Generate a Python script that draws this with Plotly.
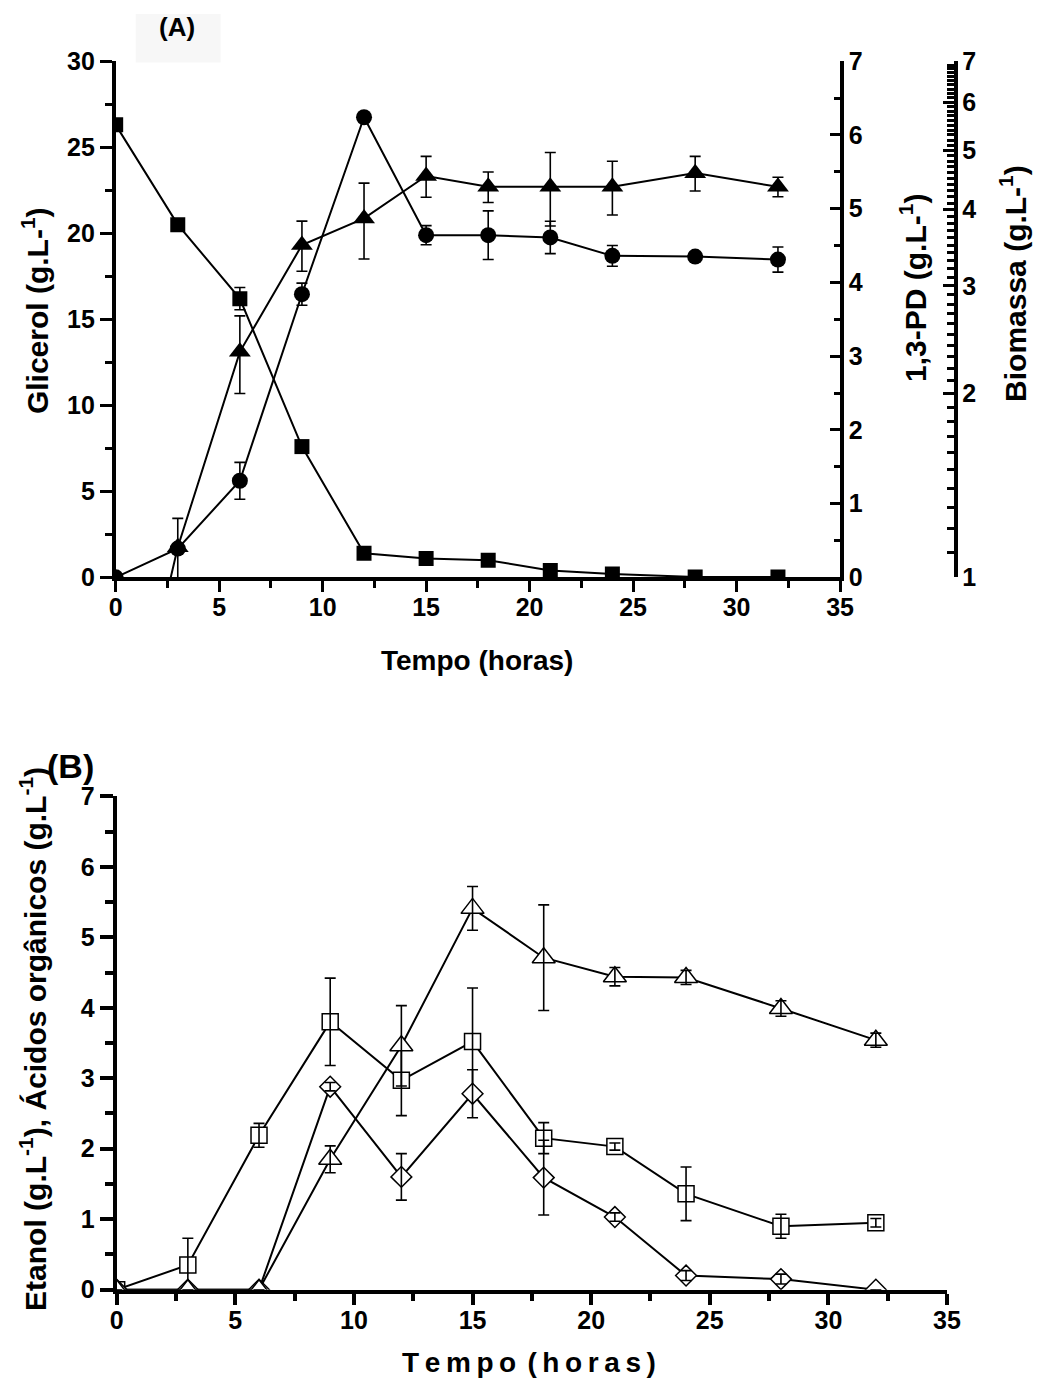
import numpy as np
import plotly.graph_objects as go

W, H = 1040, 1383
FONT = "Liberation Sans, Arial, sans-serif"

# ---------------- data : panel A ----------------
tempo_a = [0, 3, 6, 9, 12, 15, 18, 21, 24, 28, 32]
glicerol = [26.3, 20.5, 16.2, 7.6, 1.4, 1.1, 1.0, 0.4, 0.2, 0.02, 0.02]
glicerol_err = [0, 0, 0.65, 0, 0, 0, 0, 0, 0, 0, 0]
pd13 = [0.0, 0.39, 1.31, 3.84, 6.24, 4.64, 4.64, 4.61, 4.36, 4.35, 4.31]
pd13_err = [0, 0.41, 0.25, 0.15, 0, 0.13, 0.33, 0.22, 0.14, 0, 0.17]
biomassa = [0.41, 1.12, 2.34, 3.50, 3.87, 4.54, 4.36, 4.36, 4.36, 4.59, 4.36]
biomassa_err = [0, 0, 0.34, 0.33, 0.55, 0.35, 0.25, 0.6, 0.44, 0.3, 0.16]

# ---------------- data : panel B ----------------
tempo_b = [0, 3, 6, 9, 12, 15, 18, 21, 24, 28, 32]
serie_quadrados = [0.0, 0.35, 2.19, 3.80, 2.97, 3.52, 2.15, 2.03, 1.36, 0.90, 0.95]
serie_quadrados_err = [0, 0.38, 0.17, 0.62, 0.5, 0.76, 0.22, 0.05, 0.38, 0.17, 0.06]
serie_losangos = [0.0, 0.0, 0.0, 2.88, 1.60, 2.78, 1.59, 1.03, 0.20, 0.15, 0.0]
serie_losangos_err = [0, 0, 0, 0.06, 0.33, 0.34, 0.53, 0.06, 0.07, 0.07, 0]
serie_triangulos = [0.0, 0.0, 0.0, 1.85, 3.46, 5.41, 4.71, 4.44, 4.43, 3.99, 3.54]
serie_triangulos_err = [0, 0, 0, 0.19, 0.57, 0.31, 0.75, 0.13, 0.1, 0.11, 0.1]

ticks_lin_a = [0, 5, 10, 15, 20, 25, 30]
ticks_pd = [0, 1, 2, 3, 4, 5, 6, 7]
ticks_bio = [1, 2, 3, 4, 5, 6, 7]
ticks_b = [0, 1, 2, 3, 4, 5, 6, 7]
ticks_x = [0, 5, 10, 15, 20, 25, 30, 35]

# ---------------- helpers (pixel -> paper) ----------------
SC, OX, OY = 0.98, 6.3, 13.5

def px_x(p):
    return ((p - OX) / SC) / W

def px_y(p):
    return 1 - ((p - OY) / SC) / H

fig = go.Figure()

def series(x, y, err, xa, ya, symbol, size, filled):
    mk = dict(symbol=symbol, size=size,
              color="black" if filled else "white",
              line=dict(color="black", width=0 if filled else 1.5))
    fig.add_trace(go.Scatter(x=x, y=y, mode="lines+markers", xaxis=xa, yaxis=ya,
                             line=dict(color="black", width=2), marker=mk,
                             showlegend=False, hoverinfo="skip"))
    fig.add_trace(go.Scatter(x=x, y=y, mode="markers", xaxis=xa, yaxis=ya,
                             marker=dict(size=1, opacity=0),
                             error_y=dict(type="data", array=err, visible=True,
                                          color="black", thickness=1.6, width=5.5),
                             showlegend=False, hoverinfo="skip"))

# panel A
series(tempo_a, glicerol, glicerol_err, "x", "y", "square", 15, True)
series(tempo_a, pd13, pd13_err, "x", "y2", "circle", 16, True)
series(tempo_a, biomassa, biomassa_err, "x", "y3", "triangle-up", 19, True)

# panel B
series(tempo_b, serie_quadrados, serie_quadrados_err, "x2", "y4", "square", 16, False)
series(tempo_b, serie_losangos, serie_losangos_err, "x2", "y4", "diamond", 16, False)
series(tempo_b, serie_triangulos, serie_triangulos_err, "x2", "y4", "triangle-up", 20, False)

tickfont = dict(family=FONT, size=25, color="black", weight="bold")

common = dict(showgrid=False, zeroline=False, showline=True, linecolor="black",
              tickcolor="black", tickfont=tickfont)

# panel geometry (px)
ax_l, ax_r, ax_t, ax_b = 115, 839.5, 60.7, 577
bx_l, bx_r, bx_t, bx_b = 116, 946.5, 796, 1289.5

fig.update_layout(
    width=W, height=H, margin=dict(l=0, r=0, t=0, b=0),
    paper_bgcolor="white", plot_bgcolor="white",
    xaxis=dict(domain=[px_x(ax_l), px_x(ax_r)], range=[0, 35], anchor="y",
               tickmode="array", tickvals=ticks_x, ticks="outside", ticklen=11,
               tickwidth=3, linewidth=3.5, ticklabelstandoff=-6,
               minor=dict(tickmode="array", tickvals=[2.5, 7.5, 12.5, 17.5, 22.5, 27.5, 32.5],
                          ticks="outside", ticklen=7, tickwidth=3, tickcolor="black"),
               **common),
    yaxis=dict(domain=[px_y(ax_b), px_y(ax_t)], range=[0, 30], anchor="x",
               tickmode="array", tickvals=ticks_lin_a, ticks="outside", ticklen=12,
               tickwidth=3, linewidth=3.5,
               minor=dict(tickmode="array", tickvals=[2.5, 7.5, 12.5, 17.5, 22.5, 27.5],
                          ticks="outside", ticklen=7, tickwidth=3, tickcolor="black"),
               **common),
    yaxis2=dict(range=[0, 7], overlaying="y", side="right", anchor="x",
                tickmode="array", tickvals=ticks_pd, ticks="inside", ticklen=10,
                tickwidth=3, linewidth=3.5,
                minor=dict(tickmode="array", tickvals=[0.5, 1.5, 2.5, 3.5, 4.5, 5.5, 6.5],
                           ticks="inside", ticklen=6, tickwidth=3, tickcolor="black"),
                **common),
    yaxis3=dict(type="log", range=[0, float(np.log10(7))], overlaying="y", side="right",
                anchor="free", position=px_x(955),
                tickmode="array", tickvals=ticks_bio, ticks="inside", ticklen=11,
                tickwidth=3, linewidth=3.5,
                minor=dict(tickmode="array",
                           tickvals=[round(v, 1) for v in np.arange(1.1, 7.0, 0.1)
                                     if abs(v - round(v)) > 1e-6],
                           ticks="inside", ticklen=7, tickwidth=2.5, tickcolor="black"),
                **common),
    xaxis2=dict(domain=[px_x(bx_l), px_x(bx_r)], range=[0, 35], anchor="y4",
                tickmode="array", tickvals=ticks_x, ticks="outside", ticklen=11,
                tickwidth=3.5, linewidth=4, ticklabelstandoff=-6,
                minor=dict(tickmode="array", tickvals=[2.5, 7.5, 12.5, 17.5, 22.5, 27.5, 32.5],
                           ticks="outside", ticklen=7, tickwidth=3.5, tickcolor="black"),
                **common),
    yaxis4=dict(domain=[px_y(bx_b), px_y(bx_t)], range=[0, 7], anchor="x2",
                tickmode="array", tickvals=ticks_b, ticks="outside", ticklen=13,
                tickwidth=3.5, linewidth=4,
                minor=dict(tickmode="array", tickvals=[0.5, 1.5, 2.5, 3.5, 4.5, 5.5, 6.5],
                           ticks="outside", ticklen=8, tickwidth=3.5, tickcolor="black"),
                **common),
)

def label(text, x, y, size, angle=0):
    fig.add_annotation(text=text, x=px_x(x), y=px_y(y), xref="paper", yref="paper",
                       showarrow=False, textangle=angle, xanchor="center", yanchor="middle",
                       font=dict(family=FONT, size=size, color="black", weight="bold"))

# faint box behind (A)
fig.add_shape(type="rect", xref="paper", yref="paper", x0=px_x(135), x1=px_x(220),
              y0=px_y(62), y1=1, fillcolor="#f7f7f7", line=dict(width=0), layer="below")

label("(A)", 176, 27, 26)
label("Glicerol (g.L-<sup>1</sup>)", 35, 310, 30, -90)
label("1,3-PD (g.L-<sup>1</sup>)", 913, 288, 30, -90)
label("Biomassa (g.L-<sup>1</sup>)", 1013, 283, 30, -90)
label("Tempo (horas)", 476, 660, 28)

label("(B)", 70, 766, 34)
label("Etanol (g.L<sup>-1</sup>), Ácidos orgânicos (g.L<sup>-1</sup>)", 33, 1039, 30, -90)
label("T\u2009e\u2009m\u2009p\u2009o\u2009\u2009(\u2009h\u2009o\u2009r\u2009a\u2009s\u2009)", 528, 1362, 28)

fig.write_html("out.html")
